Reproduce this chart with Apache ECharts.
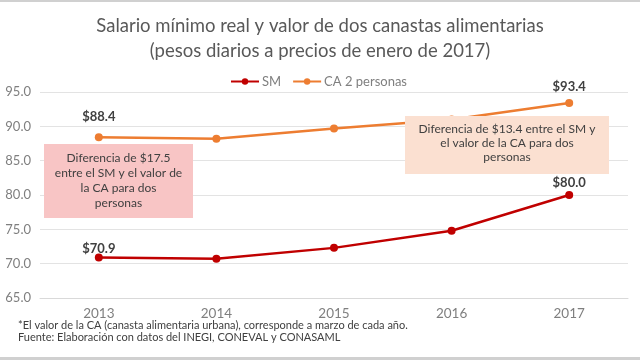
<!DOCTYPE html>
<html>
<head>
<meta charset="utf-8">
<script src="https://cdn.jsdelivr.net/npm/echarts@6/dist/echarts.min.js"></script>
<style>html,body{margin:0;padding:0;background:#fff}#c{width:640px;height:360px}</style>
</head>
<body>
<div id="c"></div>
<script>
var categories = ['2013', '2014', '2015', '2016', '2017'];
var smValues = [70.9, 70.7, 72.3, 74.8, 80.0];
var caValues = [88.4, 88.2, 89.7, 91.0, 93.4];
var yTicks = [65, 70, 75, 80, 85, 90, 95];

var FONT = 'Lato';
var chart = echarts.init(document.getElementById('c'), null, {renderer: 'canvas'});

function buildData(vals, dists) {
  return vals.map(function (v, i) {
    var d = {value: v};
    if (dists[i] !== null) {
      d.label = {show: true, distance: dists[i]};
    }
    return d;
  });
}

var option = {
  backgroundColor: '#ffffff',
  animation: false,
  textStyle: {fontFamily: FONT},
  title: {
    text: 'Salario mínimo real y valor de dos canastas alimentarias\n(pesos diarios a precios de enero de 2017)',
    left: 'center',
    top: 9,
    textStyle: {fontFamily: FONT, fontSize: 18.5, fontWeight: 'normal', color: '#595959', lineHeight: 25}
  },
  legend: {
    top: 70,
    left: 225,
    itemWidth: 28,
    itemHeight: 8,
    itemGap: 11,
    textStyle: {fontFamily: FONT, fontSize: 13, color: '#7f7f7f', padding: [0, 0, 0, -2]},
    data: ['SM', 'CA 2 personas']
  },
  grid: {left: 40, right: 12, top: 92, bottom: 62, containLabel: false},
  xAxis: {
    type: 'category',
    data: categories,
    boundaryGap: true,
    axisLine: {show: true, lineStyle: {color: '#d9d9d9'}},
    axisTick: {show: false},
    axisLabel: {fontFamily: FONT, fontSize: 13.5, color: '#7f7f7f', margin: 9}
  },
  yAxis: {
    type: 'value',
    min: yTicks[0],
    max: yTicks[yTicks.length - 1],
    interval: 5,
    axisLine: {show: false},
    axisTick: {show: false},
    axisLabel: {fontFamily: FONT, fontSize: 13, color: '#7f7f7f', margin: 9,
      formatter: function (v) { return v.toFixed(1); }},
    splitLine: {lineStyle: {color: '#e3e3e3', width: 1}}
  },
  series: [
    {
      name: 'SM',
      type: 'line',
      data: buildData(smValues, [-2, null, null, null, 2]),
      symbol: 'circle',
      symbolSize: 8,
      lineStyle: {color: '#c00000', width: 2.5},
      itemStyle: {color: '#c00000'},
      label: {show: false, position: 'top', fontFamily: FONT, fontSize: 13, fontWeight: 'bold', color: '#404040',
        formatter: function (p) { return '$' + p.value.toFixed(1); }},
      z: 3
    },
    {
      name: 'CA 2 personas',
      type: 'line',
      data: buildData(caValues, [10, null, null, null, 6]),
      symbol: 'circle',
      symbolSize: 8,
      lineStyle: {color: '#ed7d31', width: 2.5},
      itemStyle: {color: '#ed7d31'},
      label: {show: false, position: 'top', fontFamily: FONT, fontSize: 13, fontWeight: 'bold', color: '#404040',
        formatter: function (p) { return '$' + p.value.toFixed(1); }},
      z: 3
    }
  ],
  graphic: [
    {type: 'rect', left: 0, top: 0, shape: {width: 640, height: 2}, style: {fill: '#d0d0d0'}, z: 10},
    {type: 'rect', left: 0, top: 357, shape: {width: 640, height: 3}, style: {fill: '#d0d0d0'}, z: 10},
    {type: 'rect', left: 44, top: 144, shape: {width: 149, height: 74}, style: {fill: '#f8c5c5'}, z: 20},
    {type: 'text', x: 118.5, y: 181, z: 21,
      style: {text: 'Diferencia de $17.5\nentre el SM y el valor de\nla CA para dos\npersonas',
        align: 'center', verticalAlign: 'middle', font: '12px ' + FONT, fill: '#404040', lineHeight: 15}},
    {type: 'rect', left: 405, top: 116, shape: {width: 204, height: 58}, style: {fill: '#fbe0d1'}, z: 20},
    {type: 'text', x: 507, y: 143, z: 21,
      style: {text: 'Diferencia de $13.4 entre el SM y\nel valor de la CA para dos\npersonas',
        align: 'center', verticalAlign: 'middle', font: '12px ' + FONT, fill: '#404040', lineHeight: 14}},
    {type: 'text', x: 18, y: 325, z: 21,
      style: {text: '*El valor de la CA (canasta alimentaria urbana), corresponde a marzo de cada año.',
        verticalAlign: 'middle', font: '11px ' + FONT, fill: '#404040'}},
    {type: 'text', x: 18, y: 337, z: 21,
      style: {text: 'Fuente: Elaboración con datos del INEGI, CONEVAL y CONASAML',
        verticalAlign: 'middle', font: '11px ' + FONT, fill: '#404040'}}
  ]
};
chart.setOption(option);
</script>
</body>
</html>
